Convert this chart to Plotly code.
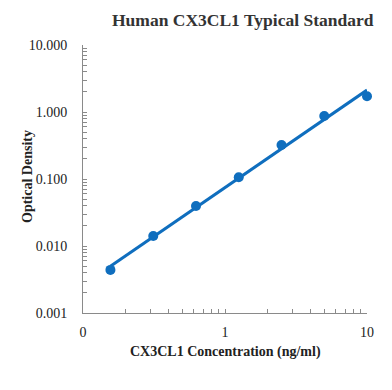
import numpy as np
import plotly.graph_objects as go

# Data
concentration = [0.156, 0.3125, 0.625, 1.25, 2.5, 5, 10]
optical_density = [0.0044, 0.0141, 0.0395, 0.106, 0.321, 0.871, 1.715]

y_tickvals = [0.001, 0.01, 0.1, 1, 10]
y_ticktext = ["0.001", "0.010", "0.100", "1.000", "10.000"]
x_tickvals = [0.1, 1, 10]
x_ticktext = ["0", "1", "10"]

title_text = "Human CX3CL1 Typical Standard"
x_title = "CX3CL1 Concentration (ng/ml)"
y_title = "Optical Density"

# Power (log-log) trendline fit
lx = np.log10(concentration)
ly = np.log10(optical_density)
slope, intercept = np.polyfit(lx, ly, 1)
fit_x = np.array([min(concentration), max(concentration)])
fit_y = 10 ** (intercept + slope * np.log10(fit_x))

blue = "#0F6EBE"
serif = "Liberation Serif, Times New Roman, serif"

fig = go.Figure()
fig.add_trace(go.Scatter(x=fit_x, y=fit_y, mode="lines",
                         line=dict(color=blue, width=3), showlegend=False,
                         hoverinfo="skip", cliponaxis=False))
fig.add_trace(go.Scatter(x=concentration, y=optical_density, mode="markers",
                         marker=dict(color=blue, size=10), showlegend=False,
                         cliponaxis=False))

axis_color = "#8a8a8a"
fig.update_layout(
    width=392, height=390,
    margin=dict(l=83, r=25, t=45, b=77),
    plot_bgcolor="white", paper_bgcolor="white",
    font=dict(family=serif, size=13, color="#222"),
    xaxis=dict(type="log", range=[-1, 1], tickvals=x_tickvals, ticktext=x_ticktext,
               showgrid=False, zeroline=False, showline=True, linecolor=axis_color,
               linewidth=1, ticks="inside", ticklen=4, tickcolor=axis_color,
               ticklabelstandoff=6,
               minor=dict(ticks="inside", ticklen=4, tickcolor=axis_color,
                          dtick="D1", showgrid=False),
               tickfont=dict(family=serif, size=14, color="#222")),
    yaxis=dict(type="log", range=[-3, 1], tickvals=y_tickvals, ticktext=y_ticktext,
               showgrid=False, zeroline=False, showline=True, linecolor=axis_color,
               linewidth=1, ticks="inside", ticklen=4, tickcolor=axis_color,
               ticklabelstandoff=12,
               minor=dict(ticks="inside", ticklen=4, tickcolor=axis_color,
                          dtick="D1", showgrid=False),
               tickfont=dict(family=serif, size=14, color="#222")),
    annotations=[
        dict(text="<b>" + title_text + "</b>", xref="paper", yref="paper",
             x=(243 - 83) / 284, y=1 + (45 - 20) / 268, xanchor="center", yanchor="middle",
             showarrow=False, font=dict(family=serif, size=17.5, color="#333")),
        dict(text="<b>" + x_title + "</b>", xref="paper", yref="paper",
             x=(225 - 83) / 284, y=-(352 - 313) / 268, xanchor="center", yanchor="middle",
             showarrow=False, font=dict(family=serif, size=14, color="#222")),
        dict(text="<b>" + y_title + "</b>", xref="paper", yref="paper",
             x=(27 - 83) / 284, y=(313 - 177) / 268, xanchor="center", yanchor="middle",
             textangle=-90, showarrow=False, font=dict(family=serif, size=14, color="#222")),
    ],
)

fig.write_html("out.html", config={"displayModeBar": False},
               post_script="document.body.style.margin='0';")
